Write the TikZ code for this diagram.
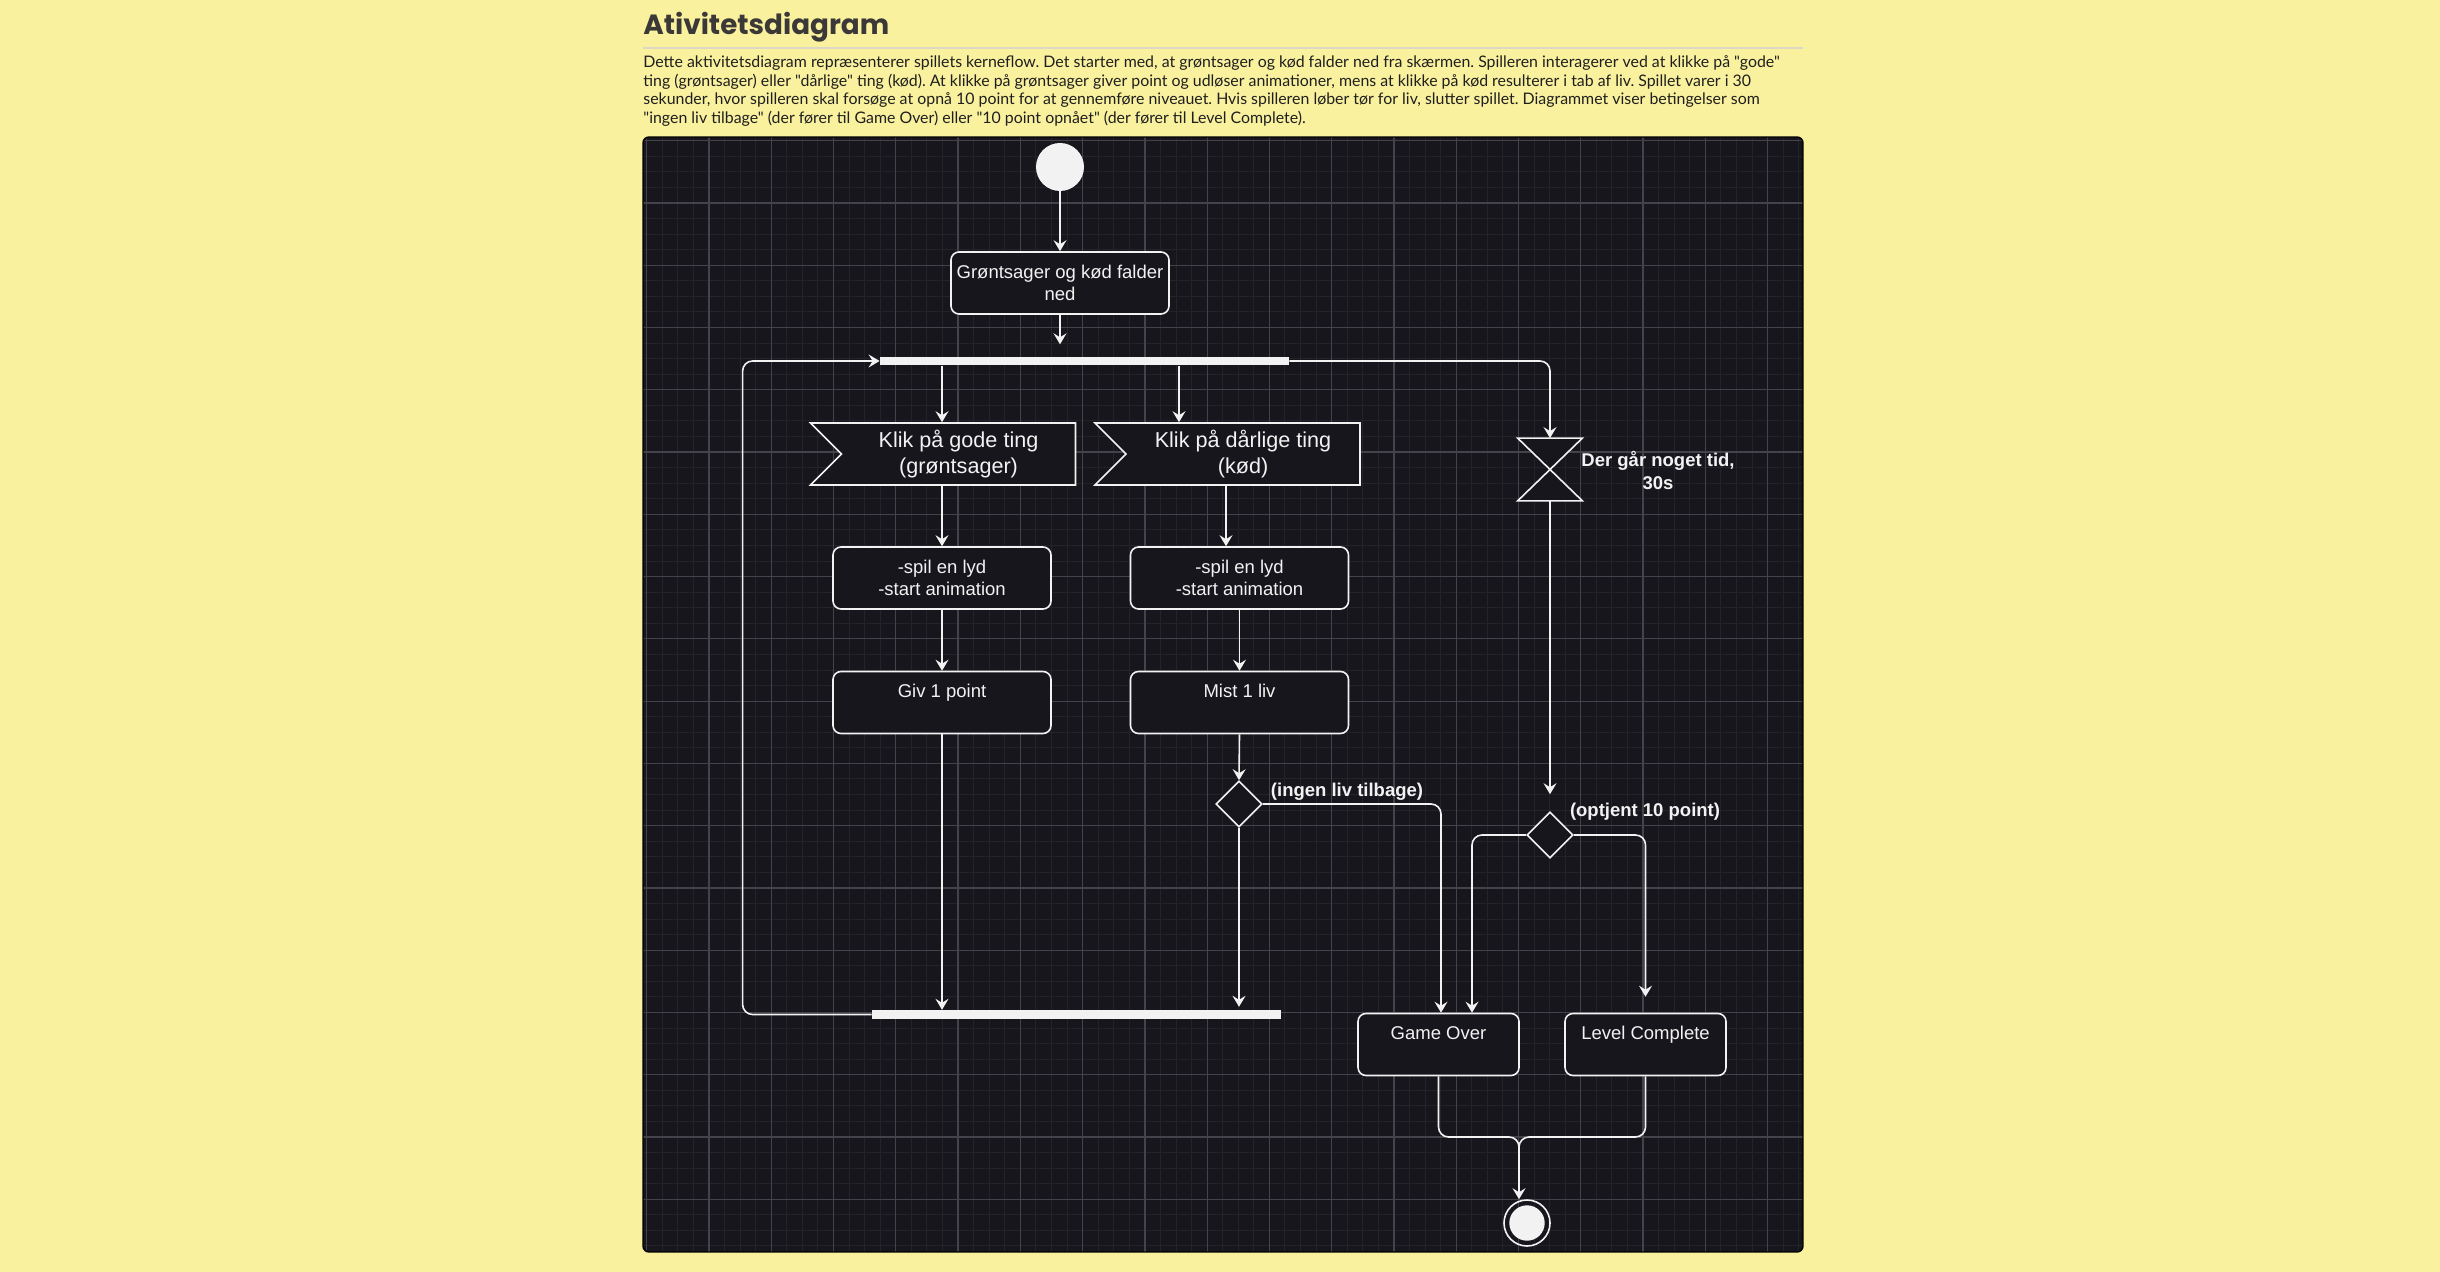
\documentclass[tikz,border=0pt]{standalone}
\usepackage{fontspec}
\setmainfont{Liberation Sans}
\newfontfamily\titlefont{Poppins}
\newfontfamily\parafont{Lato}
\usepackage{tikz}
\usetikzlibrary{shapes.geometric}
\usetikzlibrary{shapes.symbols}
\usetikzlibrary{arrows.meta}
\definecolor{pagebg}{HTML}{FAF19E}
\definecolor{panelbg}{HTML}{18161D}
\definecolor{gridminor}{HTML}{25232A}
\definecolor{gridmajor}{HTML}{44424A}
\definecolor{inkwhite}{HTML}{F2F2F2}
\definecolor{titlegray}{HTML}{3B3838}
\definecolor{rulegray}{HTML}{DCD8C4}
\frenchspacing

\begin{document}
\begin{tikzpicture}[
  x=0.5pt, y=-0.5pt,
  actbox/.style={rounded corners=4pt, draw=inkwhite, fill=panelbg, line width=0.8pt,
    text=inkwhite, align=center, inner sep=0pt,
    font=\fontsize{9.25}{11.25}\selectfont, minimum width=109pt, minimum height=31pt},
  sigbox/.style={signal, signal from=west, signal to=nowhere, draw=inkwhite, fill=panelbg,
    line width=0.8pt, text=inkwhite, align=center, inner sep=0pt,
    font=\fontsize{10.8}{13.25}\selectfont, minimum width=132.5pt, minimum height=31pt},
  decbox/.style={diamond, draw=inkwhite, fill=panelbg, line width=0.8pt, inner sep=0pt,
    minimum width=23pt, minimum height=23pt},
  syncbar/.style={fill=inkwhite, inner sep=0pt, minimum width=204.5pt, minimum height=4.3pt},
  guard/.style={text=inkwhite, align=center, inner sep=0pt,
    font=\bfseries\fontsize{9.25}{11.25}\selectfont},
  line/.style={draw=inkwhite, line width=0.8pt},
  flow/.style={line, -{Stealth[length=5.5pt,width=6.5pt,inset=2pt]}}
]

% page and panel
\useasboundingbox (0,0) rectangle (2440,1272);
\fill[pagebg] (0,0) rectangle (2440,1272);

\node[anchor=base west, inner sep=0pt, text=titlegray,
  font=\titlefont\bfseries\fontsize{13.9}{16}\selectfont] (title) at (643,35) {Ativitetsdiagram};
\draw[rulegray, line width=1pt] (643,48) -- (1803,48);

\node[anchor=north west, align=left, inner sep=0pt, text=black!88,
  font=\parafont\fontsize{7.95}{9.35}\selectfont] (intro) at (643,55) {%
Dette aktivitetsdiagram repræsenterer spillets kerneflow. Det starter med, at grøntsager og kød falder ned fra skærmen. Spilleren interagerer ved at klikke på "gode"\\
ting (grøntsager) eller "dårlige" ting (kød). At klikke på grøntsager giver point og udløser animationer, mens at klikke på kød resulterer i tab af liv. Spillet varer i 30\\
sekunder, hvor spilleren skal forsøge at opnå 10 point for at gennemføre niveauet. Hvis spilleren løber tør for liv, slutter spillet. Diagrammet viser betingelser som\\
"ingen liv tilbage" (der fører til Game Over) eller "10 point opnået" (der fører til Level Complete).};

\begin{scope}
\clip[rounded corners=3pt] (643,137) rectangle (1803,1252);
\fill[panelbg] (643,137) rectangle (1803,1252);
\foreach \k in {-4,...,70} {
  \pgfmathsetmacro\gx{709+15.567*\k}
  \draw[gridminor, line width=0.5pt] (\gx,137) -- (\gx,1252);
}
\foreach \k in {-4,...,67} {
  \pgfmathsetmacro\gy{203+15.567*\k}
  \draw[gridminor, line width=0.5pt] (643,\gy) -- (1803,\gy);
}
\foreach \k in {-1,...,17} {
  \pgfmathsetmacro\gx{709+62.27*\k}
  \draw[gridmajor, line width=0.6pt] (\gx,137) -- (\gx,1252);
}
\foreach \k in {-1,...,16} {
  \pgfmathsetmacro\gy{203+62.27*\k}
  \draw[gridmajor, line width=0.6pt] (643,\gy) -- (1803,\gy);
}
\end{scope}
\draw[black, line width=0.7pt, rounded corners=3pt] (643,137) rectangle (1803,1252);

% activity nodes
\node[circle, fill=inkwhite, inner sep=0pt, minimum size=24pt] (start) at (1060,167) {};
\node[actbox] (fall) at (1060,283) {Grøntsager og kød falder\\ned};
\node[syncbar] (forkTop) at (1084.5,361) {};

\node[sigbox] (clickGood) at (958.5,454) {Klik på gode ting\\(grøntsager)};
\node[sigbox] (clickBad) at (1243,454) {Klik på dårlige ting\\(kød)};

\node[actbox] (sndGood) at (942,578) {-spil en lyd\\-start animation};
\node[actbox] (sndBad) at (1239.5,578) {-spil en lyd\\-start animation};

\node[actbox] (point) at (942,702.5) {Giv 1 point\\\mbox{}};
\node[actbox] (lifeLost) at (1239.5,702.5) {Mist 1 liv\\\mbox{}};

\node[decbox] (decLife) at (1239,804) {};
\node[guard] (lblLife) at (1347,792) {(ingen liv tilbage)};

\node[syncbar] (forkBot) at (1076.5,1014.5) {};

\node[inner sep=0pt, minimum width=32pt, minimum height=31pt] (timer) at (1550,469.5) {};
\filldraw[line, fill=panelbg] (timer.north west) -- (timer.north east) -- (timer.south west)
  -- (timer.south east) -- cycle;
\node[guard] (lblTimer) at (1658,470.5) {Der går noget tid,\\30s};

\node[decbox] (decPts) at (1550,835) {};
\node[guard] (lblPts) at (1645,812) {(optjent 10 point)};

\node[actbox, minimum width=80.5pt] (over) at (1438.5,1044.5) {Game Over\\\mbox{}};
\node[actbox, minimum width=80.5pt] (done) at (1645.5,1044.5) {Level Complete\\\mbox{}};

\node[circle, draw=inkwhite, line width=0.8pt, inner sep=0pt, minimum size=23pt] (endRing) at (1527,1223) {};
\node[circle, fill=inkwhite, inner sep=0pt, minimum size=17.7pt] (endDot) at (1527,1223) {};
\coordinate (merge) at (1519,1137);

% connectors
\draw[flow] (start.south) -- (fall.north);
\draw[flow, shorten >=6pt] (fall.south) -- (fall.south |- forkTop.north);
\draw[flow] (forkTop.south -| sndGood.north) -- (sndGood.north |- clickGood.north);
\draw[flow] ([xshift=-30.25pt]forkTop.south -| sndBad.north) -- ([xshift=-30.25pt]sndBad.north |- clickBad.north);
\draw[flow] (sndGood.north |- clickGood.south) -- (sndGood.north);
\draw[flow] ([xshift=-6.75pt]sndBad.north |- clickBad.south) -- ([xshift=-6.75pt]sndBad.north);
\draw[flow] (sndGood.south) -- (point.north);
\draw[flow] (sndBad.south) -- (lifeLost.north);
\draw[flow] (lifeLost.south) -- (decLife.north);
\draw[flow, shorten >=1.5pt] (decLife.south) -- (decLife.south |- forkBot.north);
\draw[flow] (point.south) -- (point.south |- forkBot.north);
\draw[flow, rounded corners=5pt] (forkBot.west) -- ++(-129,0) |- (forkTop.west);

\draw[flow, rounded corners=5pt] (forkTop.east) -| (timer.north);
\draw[flow, shorten >=8.5pt] (timer.south) -- (decPts.north);

\draw[flow, rounded corners=5pt] (decLife.east) -| ([xshift=1.25pt]over.north);
\draw[flow, rounded corners=5pt] (decPts.west) -| ([xshift=16.75pt]over.north);
\draw[flow, rounded corners=5pt, shorten >=8pt] (decPts.east) -| (done.north);

\draw[line, rounded corners=5pt] (done.south) |- (merge) -- ++(0,20);
\draw[flow, rounded corners=5pt] (over.south) |- (merge) -- (merge |- endRing.north);

\end{tikzpicture}
\end{document}
